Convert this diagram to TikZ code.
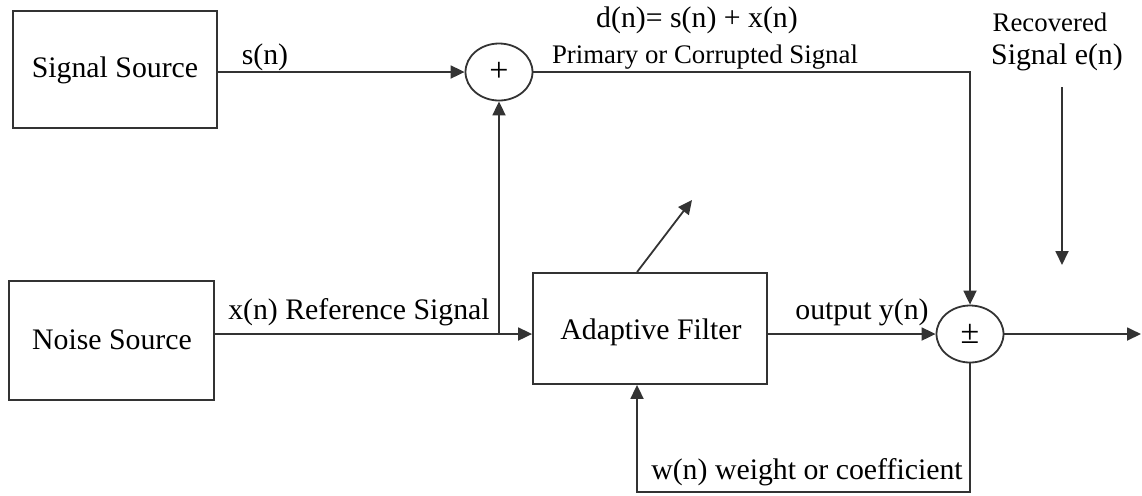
\documentclass[tikz,border=0pt]{standalone}
\usepackage{fontspec}
\setmainfont{Liberation Serif}
\usetikzlibrary{arrows.meta,shapes.geometric}
\begin{document}
\begin{tikzpicture}[x=0.5pt,y=-0.5pt,
  wire/.style={line width=0.9pt,draw=black!80},
  arr/.style={wire,-{Triangle[length=7pt,width=6.5pt]}},
  block/.style={draw=black!80,line width=0.9pt,rectangle,inner sep=0pt},
  junction/.style={draw=black!80,line width=0.9pt,ellipse,inner sep=0pt,
    minimum width=33.5pt,minimum height=28.5pt,font=\fontsize{17}{19}\selectfont},
  lbl/.style={inner sep=0pt,font=\fontsize{14.9}{17}\selectfont},
  lblsmall/.style={inner sep=0pt,font=\fontsize{13.4}{16}\selectfont}]
\useasboundingbox (0,0) rectangle (1142,495);

% blocks
\node[block,minimum width=102pt,minimum height=58.5pt] (sig) at (115,69.5) {};
\node[block,minimum width=102.5pt,minimum height=59.5pt] (noise) at (111.5,340.5) {};
\node[block,minimum width=117pt,minimum height=55.5pt] (af) at (650,328.5) {};
\node[lbl] (sigt) at (115,70) {Signal Source};
\node[lbl] (noiset) at (112,340) {Noise Source};
\node[lbl] (aft) at (651,332) {Adaptive Filter};

% summing junctions
\node[junction] (sum) at (499,72) {+};
\node[junction] (pm) at (970,334) {±};

% routing points
\coordinate (jn) at (499,334);
\coordinate (corner) at (970,72);
\coordinate (fb) at (637,492);
\coordinate (out) at (1141,334);
\coordinate (adapt) at (692,200);
\coordinate (rtop) at (1062,87);
\coordinate (rbot) at (1062,265);

% connectors
\draw[arr] (sig.east |- sum) -- (sum.west);
\draw[wire] (noise.east |- jn) -- (jn);
\draw[arr] (jn) -- (af.west |- jn);
\draw[arr] (jn) -- (sum.south);
\draw[arr] (sum.east) -- (corner) -- (pm.north);
\draw[arr] (af.east |- pm) -- (pm.west);
\draw[arr] (pm.east) -- (out);
\draw[arr] (pm.south) |- (fb) -- (fb |- af.south);
\draw[arr] (fb |- af.north) -- (adapt);
\draw[arr] (rtop) -- (rbot);

% labels
\node[lbl] (ls) at (265,57) {s(n)};
\node[lbl] (ld) at (697,20) {d(n)= s(n) + x(n)};
\node[lblsmall] (lp) at (705,57) {Primary or Corrupted Signal};
\node[lblsmall] (lr) at (1050,22) {Recovered};
\node[lbl] (le) at (1057,57) {Signal e(n)};
\node[lbl] (lx) at (359,312) {x(n) Reference Signal};
\node[lbl] (ly) at (862,312) {output y(n)};
\node[lbl] (lw) at (807,472) {w(n) weight or coefficient};
\end{tikzpicture}
\end{document}
